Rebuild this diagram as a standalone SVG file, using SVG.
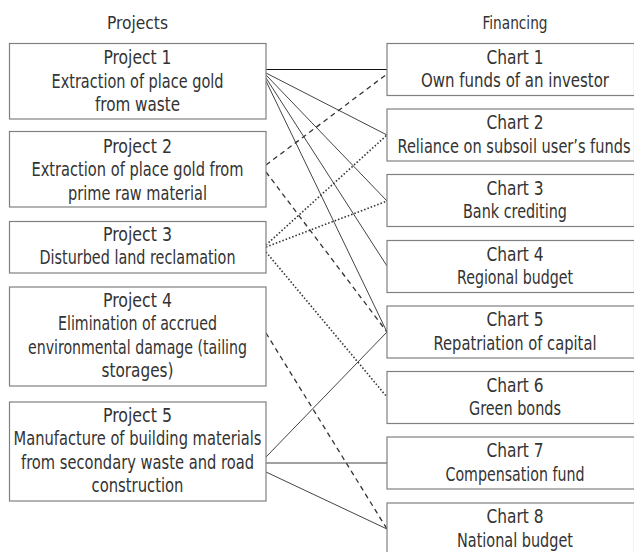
<svg xmlns="http://www.w3.org/2000/svg" width="634" height="552" viewBox="0 0 634 552">
<style>
  .box { fill: #ffffff; stroke: #808080; stroke-width: 1.2; }
  text { font-family: "DejaVu Sans Condensed", "DejaVu Sans", "Liberation Sans", sans-serif; font-size: 19.5px; fill: #333333; text-anchor: middle; }
  .hd { font-size: 18px; }
  .solid { stroke: #444444; stroke-width: 1; fill: none; }
  .dash { stroke: #333333; stroke-width: 1.3; fill: none; stroke-dasharray: 5 4; }
  .dot { stroke: #333333; stroke-width: 1.6; fill: none; stroke-dasharray: 1.5 2; }
</style>
<rect x="0" y="0" width="634" height="552" fill="#ffffff"/>
<text class="hd" x="137.5" y="29" textLength="61" lengthAdjust="spacingAndGlyphs">Projects</text>
<text class="hd" x="515" y="29" textLength="65" lengthAdjust="spacingAndGlyphs">Financing</text>

<g id="connectors">
  <line class="solid" x1="266" y1="69.5" x2="387" y2="69.5" style="stroke:#111"/>
  <line class="solid" x1="266" y1="73" x2="387" y2="135"/>
  <line class="solid" x1="266" y1="75" x2="387" y2="201"/>
  <line class="solid" x1="266" y1="78" x2="387" y2="266"/>
  <line class="solid" x1="266" y1="81" x2="387" y2="332"/>
  <line class="dash" x1="266" y1="165" x2="387" y2="74"/>
  <line class="dash" x1="266" y1="172" x2="387" y2="332"/>
  <line class="dot" x1="266" y1="245" x2="387" y2="135"/>
  <line class="dot" x1="266" y1="247" x2="387" y2="201"/>
  <line class="dot" x1="266" y1="252" x2="387" y2="397"/>
  <line class="dash" x1="266" y1="333" x2="387" y2="529"/>
  <line class="solid" x1="266" y1="457" x2="387" y2="332"/>
  <line class="solid" x1="266" y1="463" x2="387" y2="463"/>
  <line class="solid" x1="266" y1="472" x2="387" y2="529"/>
</g>

<g id="project1">
  <rect class="box" x="9.5" y="43.5" width="256.5" height="75.5"/>
  <text x="137.5" y="64" textLength="68" lengthAdjust="spacingAndGlyphs">Project 1</text>
  <text x="137.5" y="87.5" textLength="172" lengthAdjust="spacingAndGlyphs">Extraction of place gold</text>
  <text x="137.5" y="111" textLength="85" lengthAdjust="spacingAndGlyphs">from waste</text>
</g>
<g id="project2">
  <rect class="box" x="9.5" y="131.5" width="256.5" height="75.5"/>
  <text x="137.5" y="152.5" textLength="69" lengthAdjust="spacingAndGlyphs">Project 2</text>
  <text x="137.5" y="176" textLength="212" lengthAdjust="spacingAndGlyphs">Extraction of place gold from</text>
  <text x="137.5" y="199.5" textLength="139" lengthAdjust="spacingAndGlyphs">prime raw material</text>
</g>
<g id="project3">
  <rect class="box" x="9.5" y="221.5" width="256.5" height="51.5"/>
  <text x="137.5" y="240.5" textLength="69" lengthAdjust="spacingAndGlyphs">Project 3</text>
  <text x="137.5" y="264" textLength="196" lengthAdjust="spacingAndGlyphs">Disturbed land reclamation</text>
</g>
<g id="project4">
  <rect class="box" x="9.5" y="287" width="256.5" height="99"/>
  <text x="137.5" y="306.5" textLength="69" lengthAdjust="spacingAndGlyphs">Project 4</text>
  <text x="137.5" y="330" textLength="159" lengthAdjust="spacingAndGlyphs">Elimination of accrued</text>
  <text x="137.5" y="353.5" textLength="219" lengthAdjust="spacingAndGlyphs">environmental damage (tailing</text>
  <text x="137.5" y="377" textLength="72" lengthAdjust="spacingAndGlyphs">storages)</text>
</g>
<g id="project5">
  <rect class="box" x="9.5" y="402" width="256.5" height="99"/>
  <text x="137.5" y="421.5" textLength="69" lengthAdjust="spacingAndGlyphs">Project 5</text>
  <text x="137.5" y="445" textLength="248" lengthAdjust="spacingAndGlyphs">Manufacture of building materials</text>
  <text x="137.5" y="468.5" textLength="233" lengthAdjust="spacingAndGlyphs">from secondary waste and road</text>
  <text x="137.5" y="492" textLength="92" lengthAdjust="spacingAndGlyphs">construction</text>
</g>

<g id="chart1">
  <rect class="box" x="387" y="43.5" width="247.5" height="52"/>
  <text x="515" y="63.5" textLength="57" lengthAdjust="spacingAndGlyphs">Chart 1</text>
  <text x="515" y="87" textLength="188" lengthAdjust="spacingAndGlyphs">Own funds of an investor</text>
</g>
<g id="chart2">
  <rect class="box" x="387" y="109" width="247.5" height="52"/>
  <text x="515" y="129" textLength="57" lengthAdjust="spacingAndGlyphs">Chart 2</text>
  <text x="514" y="152.5" textLength="233" lengthAdjust="spacingAndGlyphs">Reliance on subsoil user’s funds</text>
</g>
<g id="chart3">
  <rect class="box" x="387" y="174.5" width="247.5" height="52"/>
  <text x="515" y="194.5" textLength="57" lengthAdjust="spacingAndGlyphs">Chart 3</text>
  <text x="515" y="218" textLength="104" lengthAdjust="spacingAndGlyphs">Bank crediting</text>
</g>
<g id="chart4">
  <rect class="box" x="387" y="240.5" width="247.5" height="52"/>
  <text x="515" y="260.5" textLength="57" lengthAdjust="spacingAndGlyphs">Chart 4</text>
  <text x="515" y="284" textLength="116" lengthAdjust="spacingAndGlyphs">Regional budget</text>
</g>
<g id="chart5">
  <rect class="box" x="387" y="306" width="247.5" height="52"/>
  <text x="515" y="326" textLength="57" lengthAdjust="spacingAndGlyphs">Chart 5</text>
  <text x="515" y="349.5" textLength="163" lengthAdjust="spacingAndGlyphs">Repatriation of capital</text>
</g>
<g id="chart6">
  <rect class="box" x="387" y="371.5" width="247.5" height="52"/>
  <text x="515" y="391.5" textLength="57" lengthAdjust="spacingAndGlyphs">Chart 6</text>
  <text x="515" y="415" textLength="92" lengthAdjust="spacingAndGlyphs">Green bonds</text>
</g>
<g id="chart7">
  <rect class="box" x="387" y="437" width="247.5" height="52"/>
  <text x="515" y="457" textLength="57" lengthAdjust="spacingAndGlyphs">Chart 7</text>
  <text x="515" y="480.5" textLength="139" lengthAdjust="spacingAndGlyphs">Compensation fund</text>
</g>
<g id="chart8">
  <rect class="box" x="387" y="503" width="247.5" height="52"/>
  <text x="515" y="523" textLength="57" lengthAdjust="spacingAndGlyphs">Chart 8</text>
  <text x="515" y="546.5" textLength="116" lengthAdjust="spacingAndGlyphs">National budget</text>
</g>
</svg>
